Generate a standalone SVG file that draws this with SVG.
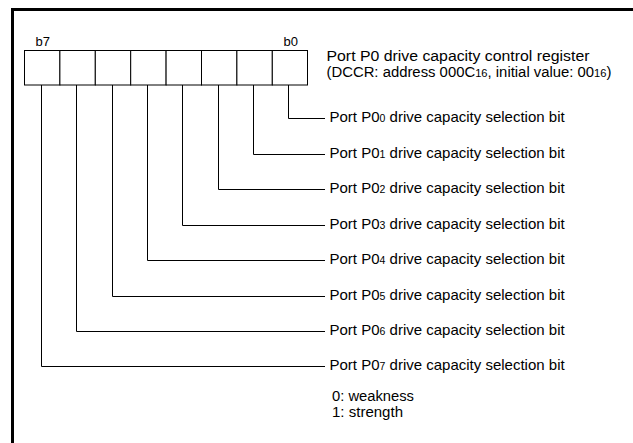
<svg xmlns="http://www.w3.org/2000/svg" width="633" height="443" viewBox="0 0 633 443">
<style>
.t{font-family:"Liberation Sans",Arial,sans-serif;font-size:15px;fill:#000}
.u{font-family:"Liberation Sans",Arial,sans-serif;font-size:14px;fill:#000}
.s{font-size:10.5px}
.b{font-family:"Liberation Sans",Arial,sans-serif;font-size:13px;fill:#000}
.ln{fill:none;stroke:#000;stroke-width:1}
.cell{fill:#fff;stroke:#000;stroke-width:1}
</style>
<rect width="633" height="443" fill="#fff"/>
<g id="frame">
<path d="M12.5,443 V9.5 H633" fill="none" stroke="#000" stroke-width="3"/>
</g>
<g id="register">
<rect class="cell" x="24.5" y="50.5" width="35.4" height="34.5"/>
<rect class="cell" x="59.9" y="50.5" width="35.4" height="34.5"/>
<rect class="cell" x="95.3" y="50.5" width="35.4" height="34.5"/>
<rect class="cell" x="130.7" y="50.5" width="35.4" height="34.5"/>
<rect class="cell" x="166.1" y="50.5" width="35.4" height="34.5"/>
<rect class="cell" x="201.5" y="50.5" width="35.4" height="34.5"/>
<rect class="cell" x="236.9" y="50.5" width="35.4" height="34.5"/>
<rect class="cell" x="272.3" y="50.5" width="35.2" height="34.5"/>
<text class="b" x="35.5" y="46">b7</text>
<text class="b" x="283.5" y="46">b0</text>
</g>
<g id="title">
<text class="u" x="326.5" y="61.3" textLength="263" lengthAdjust="spacingAndGlyphs">Port P0 drive capacity control register</text>
<text class="u" x="326.5" y="77.1" textLength="285" lengthAdjust="spacingAndGlyphs">(DCCR: address 000C<tspan class="s">16</tspan>, initial value: 00<tspan class="s">16</tspan>)</text>
</g>
<g id="connectors">
<path class="ln" d="M288.5,85 V118.5 H325"/>
<path class="ln" d="M253.5,85 V154.5 H325"/>
<path class="ln" d="M218.5,85 V189.5 H325"/>
<path class="ln" d="M182.5,85 V225.5 H325"/>
<path class="ln" d="M147.5,85 V260.5 H325"/>
<path class="ln" d="M112.5,85 V296.5 H325"/>
<path class="ln" d="M76.5,85 V331.5 H325"/>
<path class="ln" d="M41.5,85 V366.5 H325"/>
</g>
<g id="bit0"><text class="t" x="329.5" y="122">Port P0<tspan class="s">0</tspan> drive capacity selection bit</text></g>
<g id="bit1"><text class="t" x="329.5" y="157.5">Port P0<tspan class="s">1</tspan> drive capacity selection bit</text></g>
<g id="bit2"><text class="t" x="329.5" y="193">Port P0<tspan class="s">2</tspan> drive capacity selection bit</text></g>
<g id="bit3"><text class="t" x="329.5" y="228.5">Port P0<tspan class="s">3</tspan> drive capacity selection bit</text></g>
<g id="bit4"><text class="t" x="329.5" y="264">Port P0<tspan class="s">4</tspan> drive capacity selection bit</text></g>
<g id="bit5"><text class="t" x="329.5" y="299.5">Port P0<tspan class="s">5</tspan> drive capacity selection bit</text></g>
<g id="bit6"><text class="t" x="329.5" y="335">Port P0<tspan class="s">6</tspan> drive capacity selection bit</text></g>
<g id="bit7"><text class="t" x="329.5" y="370">Port P0<tspan class="s">7</tspan> drive capacity selection bit</text></g>
<g id="legend">
<text class="u" x="332" y="400.8" textLength="82" lengthAdjust="spacingAndGlyphs">0: weakness</text>
<text class="u" x="332" y="416.6" textLength="71" lengthAdjust="spacingAndGlyphs">1: strength</text>
</g>
</svg>
